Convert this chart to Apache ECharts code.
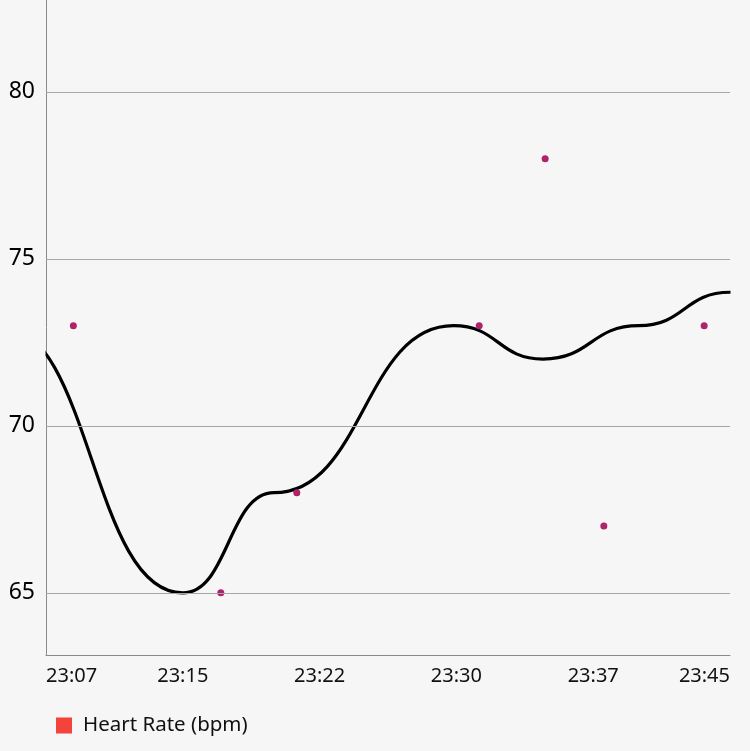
<!DOCTYPE html>
<html>
<head>
<meta charset="utf-8">
<script src="https://cdn.jsdelivr.net/npm/echarts@6/dist/echarts.min.js"></script>
<style>
html,body{margin:0;padding:0;background:#f6f6f6;}
#chart{width:750px;height:751px;}
</style>
</head>
<body>
<div id="chart"></div>
<script>
// Smoothed trend line (knots), times HH:MM:SS
const lineTimes = ["23:00:00","23:05:00","23:15:00","23:20:00","23:29:50","23:34:45","23:40:00","23:45:00","23:50:00"];
const lineValues = [73, 73, 65, 68, 73, 72, 73, 74, 74];
// Heart rate readings
const dotTimes = ["23:09:00","23:17:05","23:21:15","23:31:15","23:34:52","23:38:05","23:43:35"];
const dotValues = [73, 65, 68, 73, 78, 67, 73];
// Axis ticks
const yTicks = [65, 70, 75, 80];
const xStart = "23:07:30", xEnd = "23:45:00", xStep = 7.5; // minutes
const seriesName = "Heart Rate (bpm)";

function toMin(t){ const p = t.split(":").map(Number); return (p[0]-23)*60 + p[1] + (p[2]||0)/60; }
function fmt(v){ const m = Math.floor(v + 1e-6); return "23:" + String(m).padStart(2,"0"); }

const lineData = lineTimes.map((t,i)=>[toMin(t), lineValues[i]]);
const dotData = dotTimes.map((t,i)=>[toMin(t), dotValues[i]]);

const W = 750, H = 751;
const G = {left:46, right:20, top:0, bottom:96};
const BG = '#f6f6f6';

const chart = echarts.init(document.getElementById('chart'), null, {renderer:'canvas'});
chart.setOption({
  animation:false,
  backgroundColor:BG,
  textStyle:{fontFamily:'Noto Sans'},
  grid:{left:G.left, right:G.right, top:G.top, bottom:G.bottom, containLabel:false},
  xAxis:{
    type:'value', min:toMin(xStart), max:toMin(xEnd), interval:xStep,
    axisLine:{show:true, lineStyle:{color:'#8a8a8a', width:1}},
    axisTick:{show:false},
    splitLine:{show:false},
    axisLabel:{formatter:fmt, fontSize:20, color:'#111', margin:11, alignMinLabel:'left', alignMaxLabel:'right', fontFamily:'Noto Sans'}
  },
  yAxis:{
    type:'value', min:63.14, max:82.75,
    axisLine:{show:true, lineStyle:{color:'#8a8a8a', width:1}},
    axisTick:{show:false},
    splitLine:{show:false},
    axisLabel:{customValues:yTicks, fontSize:23, color:'#000', margin:11, fontFamily:'Noto Sans'}
  },
  legend:{
    data:[{name:seriesName, icon:'rect', itemStyle:{color:'#f4433b', opacity:1}}],
    left:56, top:715, padding:0, itemWidth:16, itemHeight:16,
    textStyle:{fontSize:20.5, color:'#111', fontFamily:'Noto Sans', padding:[0,0,0,6]}
  },
  graphic:[
    {type:'rect', z:100, silent:true, shape:{x:38, y:300, width:G.left - 38 - 0.5, height:100}, style:{fill:BG}},
    {type:'rect', z:100, silent:true, shape:{x:W - G.right + 0.5, y:240, width:G.right, height:100}, style:{fill:BG}}
  ],
  series:[
    {
      name:'grid', type:'line', data:[], z:1, silent:true,
      markLine:{silent:true, symbol:['none','none'], label:{show:false},
        lineStyle:{color:'#a6a6a6', type:'solid', width:1},
        data: yTicks.map(v=>({yAxis:v}))}
    },
    {
      name:'trend', type:'line', data:lineData, z:2,
      smooth:0.5, smoothMonotone:'x', showSymbol:false, symbol:'none', clip:true,
      lineStyle:{color:'#000', width:3.2}
    },
    {
      name:seriesName, type:'scatter', data:dotData, z:3,
      symbol:'circle', symbolSize:7,
      itemStyle:{color:'#b0226a', opacity:1}
    }
  ]
});
</script>
</body>
</html>
